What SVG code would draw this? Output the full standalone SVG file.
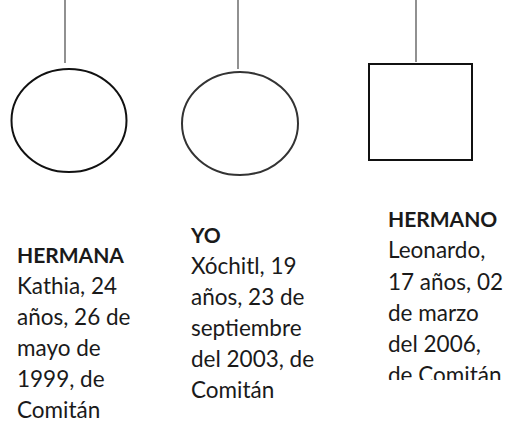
<svg xmlns="http://www.w3.org/2000/svg" width="512" height="427" viewBox="0 0 512 427">
<defs>
<style>
.ln{stroke:#555;stroke-width:1.3;fill:none}
.sh{fill:#fff;stroke:#111;stroke-width:2}
.t{font-family:Lato,"Open Sans","Liberation Sans",sans-serif;font-size:22.5px;fill:#1a1a1a}
.b{font-weight:bold;font-size:21px}
</style>
<clipPath id="c3"><rect x="380" y="200" width="132" height="180"/></clipPath>
</defs>
<rect width="512" height="427" fill="#fff"/>
<g id="connectors">
<line class="ln" x1="65" y1="0" x2="65" y2="63"/>
<line class="ln" x1="238" y1="0" x2="238" y2="69"/>
<line class="ln" x1="416" y1="0" x2="416" y2="62"/>
</g>
<g id="hermana">
<ellipse class="sh" cx="69" cy="120.5" rx="57.5" ry="51.5"/>
<text class="t"><tspan class="b" x="17" y="263">HERMANA</tspan><tspan x="17" y="294">Kathia, 24</tspan><tspan x="17" y="325">años, 26 de</tspan><tspan x="17" y="356">mayo de</tspan><tspan x="17" y="387">1999, de</tspan><tspan x="17" y="418">Comitán</tspan></text>
</g>
<g id="yo">
<ellipse class="sh" cx="240" cy="123.5" rx="58" ry="51.5" style="stroke:#333"/>
<text class="t"><tspan class="b" x="191" y="243">YO</tspan><tspan x="191" y="274">Xóchitl, 19</tspan><tspan x="191" y="305">años, 23 de</tspan><tspan x="191" y="336">septiembre</tspan><tspan x="191" y="367">del 2003, de</tspan><tspan x="191" y="398">Comitán</tspan></text>
</g>
<g id="hermano">
<rect class="sh" x="369" y="64" width="103" height="96"/>
<text class="t" clip-path="url(#c3)"><tspan class="b" x="388" y="227">HERMANO</tspan><tspan x="388" y="258">Leonardo,</tspan><tspan x="388" y="290">17 años, 02</tspan><tspan x="388" y="321">de marzo</tspan><tspan x="388" y="352">del 2006,</tspan><tspan x="388" y="383">de Comitán</tspan></text>
</g>
</svg>
